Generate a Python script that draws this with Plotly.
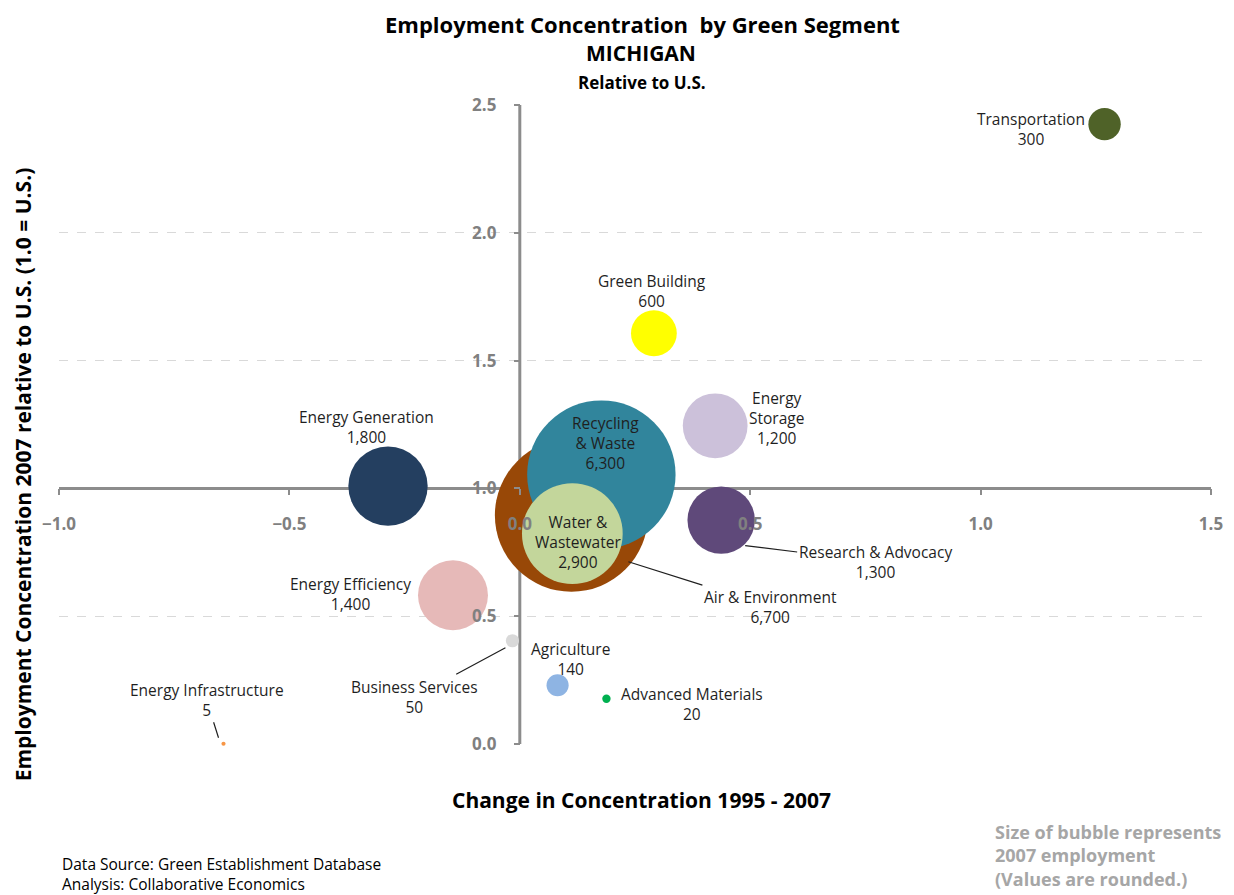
import plotly.graph_objects as go

# ---------------- data ----------------
segments = ["Transportation", "Green Building", "Energy Storage", "Energy Generation",
            "Air & Environment", "Recycling & Waste", "Water & Wastewater",
            "Research & Advocacy", "Energy Efficiency", "Business Services",
            "Agriculture", "Advanced Materials", "Energy Infrastructure"]
label_names = ["Transportation", "Green Building", "Energy<br>Storage", "Energy Generation",
               "Air & Environment", "Recycling<br>& Waste", "Water &<br>Wastewater",
               "Research & Advocacy", "Energy Efficiency", "Business Services",
               "Agriculture", "Advanced Materials", "Energy Infrastructure"]
change_1995_2007 = [1.269, 0.291, 0.424, -0.286, 0.112, 0.177, 0.114, 0.437, -0.145, -0.016, 0.082, 0.188, -0.643]
concentration_2007 = [2.425, 1.607, 1.245, 1.009, 0.895, 1.054, 0.823, 0.876, 0.582, 0.404, 0.230, 0.177, 0.001]
employment_2007 = [300, 600, 1200, 1800, 6700, 6300, 2900, 1300, 1400, 50, 140, 20, 5]

x_ticks = [-1.0, -0.5, 0.0, 0.5, 1.0, 1.5]
y_ticks = [0.0, 0.5, 1.0, 1.5, 2.0, 2.5]

# ---------------- styles ----------------
colors = ["#4F6228", "#FFFF00", "#CCC1DA", "#243F60", "#984807", "#31859C", "#C3D69B",
          "#5F497A", "#E6B9B8", "#D9D9D9", "#8EB4E3", "#00B050", "#F79646"]
# label placement in screen pixels: (dx, dy) text centre offset, or arrow: tip offset + text offset
label_place = {
    "Transportation": dict(dx=-74, dy=4.5),
    "Green Building": dict(dx=-1.5, dy=-42.5),
    "Energy Storage": dict(dx=61, dy=-8),
    "Energy Generation": dict(dx=-21.5, dy=-59.5),
    "Recycling & Waste": dict(dx=4, dy=-32),
    "Water & Wastewater": dict(dx=6, dy=8),
    "Energy Efficiency": dict(dx=-102.5, dy=-1.5),
    "Agriculture": dict(dx=12.5, dy=-26.5),
    "Advanced Materials": dict(dx=86, dy=5),
    "Air & Environment": dict(tip=(57, 46.5), txt=(142, 45)),
    "Research & Advocacy": dict(tip=(24, 25.5), txt=(130, 16)),
    "Business Services": dict(tip=(-7, 7), txt=(-91, 49)),
    "Energy Infrastructure": dict(tip=(-5, -6), txt=(-12, -38)),
}

FONT = "Open Sans"
OFF = 8  # page body margin offset
W, H = 1234 - OFF, 895 - OFF
M_L, M_R, M_T, M_B = 58.5 - OFF, 23, 105 - OFF, 150.7
PLOT_W = W - M_L - M_R
PLOT_H = H - M_T - M_B
X_RANGE = [x_ticks[0], x_ticks[-1]]
Y_RANGE = [y_ticks[0], y_ticks[-1]]
X_AXIS_AT = 1.0   # y value where horizontal axis crosses
Y_AXIS_AT = 0.0   # x value where vertical axis crosses
AXIS_GREY = "#8C8C8C"


def px2paper_x(px):
    return (px - OFF - M_L) / PLOT_W


def px2paper_y(py):
    return (H - M_B - (py - OFF)) / PLOT_H


fig = go.Figure()
fig.add_trace(go.Scatter(
    x=change_1995_2007, y=concentration_2007, mode="markers",
    text=segments,
    marker=dict(size=employment_2007, sizemode="area", sizeref=0.572, sizemin=1,
                color=colors, opacity=1, line=dict(width=0)),
    cliponaxis=False, hoverinfo="text", showlegend=False,
))

annotations = []
for name, lab, x, y, v in zip(segments, label_names, change_1995_2007, concentration_2007, employment_2007):
    p = label_place[name]
    txt = f"{lab}<br>{v:,}"
    base = dict(x=x, y=y, xref="x", yref="y", text=txt, align="center",
                font=dict(family=FONT, size=15.5, color="#1F1F1F"))
    if "tip" in p:
        base.update(showarrow=True, xshift=p["tip"][0], yshift=-p["tip"][1],
                    ax=p["txt"][0], ay=p["txt"][1], arrowhead=0, arrowwidth=1.2,
                    arrowcolor="#1F1F1F", standoff=0)
    else:
        base.update(showarrow=False, xshift=p["dx"], yshift=-p["dy"])
    annotations.append(base)


def paper_text(px, py, text, size, bold=True, color="#000000", xanchor="center", textangle=0):
    return dict(x=px2paper_x(px), y=px2paper_y(py), xref="paper", yref="paper",
                text=f"<b>{text}</b>" if bold else text, showarrow=False,
                xanchor=xanchor, yanchor="middle", textangle=textangle, align="left",
                font=dict(family=FONT, size=size, color=color))


annotations += [
    paper_text(642, 24, "Employment Concentration  by Green Segment", 22),
    paper_text(641, 53, "MICHIGAN", 21),
    paper_text(642, 82, "Relative to U.S.", 17),
    paper_text(641, 800, "Change in Concentration 1995 - 2007", 21),
    paper_text(22, 475, "Employment Concentration 2007 relative to U.S. (1.0 = U.S.)", 21, textangle=-90),
    paper_text(993, 856, "Size of bubble represents<br>2007 employment<br>(Values are rounded.)", 18,
               color="#A6A6A6", xanchor="left"),
    paper_text(60, 874, "Data Source: Green Establishment Database<br>Analysis: Collaborative Economics", 15.5,
               bold=False, xanchor="left"),
]

shapes = [
    dict(type="line", xref="x", yref="y", x0=X_RANGE[0], x1=X_RANGE[1], y0=X_AXIS_AT, y1=X_AXIS_AT,
         line=dict(color=AXIS_GREY, width=3), layer="between"),
    dict(type="line", xref="x", yref="y", x0=Y_AXIS_AT, x1=Y_AXIS_AT, y0=Y_RANGE[0], y1=Y_RANGE[1],
         line=dict(color=AXIS_GREY, width=3), layer="between"),
]

tickfont = dict(family=FONT, size=17, color="#808080", weight="bold")
fig.update_layout(
    width=W, height=H,
    margin=dict(l=M_L, r=M_R, t=M_T, b=M_B, pad=0),
    paper_bgcolor="white", plot_bgcolor="white",
    xaxis=dict(range=X_RANGE, tickvals=x_ticks, tickformat=".1f", showgrid=False, zeroline=False,
               showline=False, ticks="outside", ticklen=6, tickwidth=2, tickcolor=AXIS_GREY,
               anchor="free", position=(X_AXIS_AT - Y_RANGE[0]) / (Y_RANGE[1] - Y_RANGE[0]),
               tickfont=tickfont, ticklabelstandoff=14),
    yaxis=dict(range=Y_RANGE, tickvals=y_ticks, tickformat=".1f", showgrid=True,
               gridcolor="#D9D9D9", griddash="dash", gridwidth=1, zeroline=False,
               showline=False, ticks="outside", ticklen=6, tickwidth=2, tickcolor=AXIS_GREY,
               anchor="free", position=(Y_AXIS_AT - X_RANGE[0]) / (X_RANGE[1] - X_RANGE[0]),
               tickfont=tickfont, ticklabelstandoff=14),
    annotations=annotations,
    shapes=shapes,
    showlegend=False,
)

fig.write_html("out.html")
